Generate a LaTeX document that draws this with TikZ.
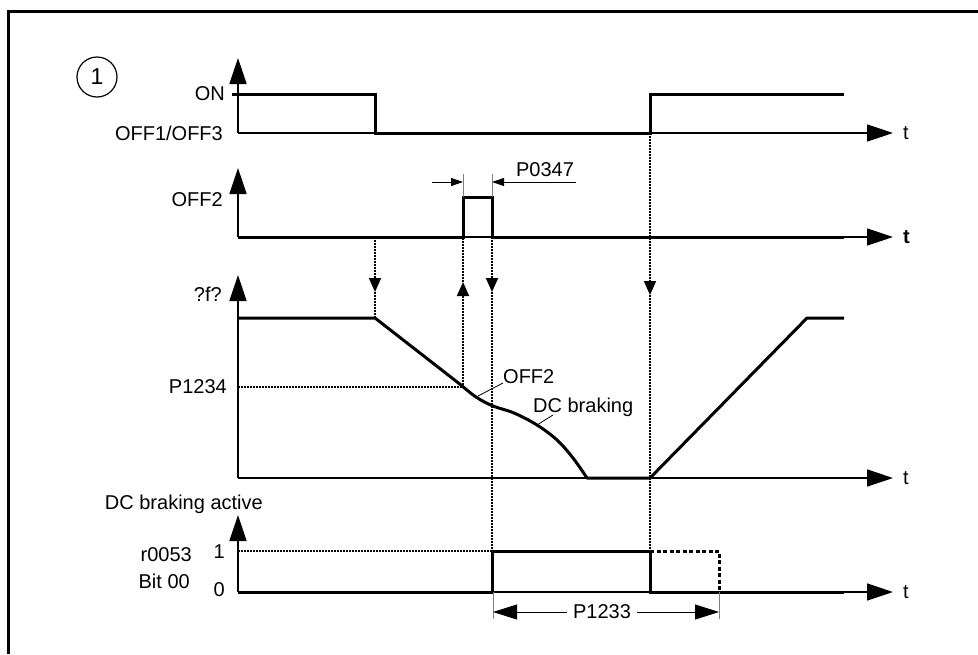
\documentclass[tikz,border=0pt]{standalone}
\usepackage{fontspec}
\setmainfont{Liberation Sans}
\usetikzlibrary{arrows.meta}
\begin{document}
\begin{tikzpicture}[x=1pt,y=-1pt,
  font=\fontsize{20}{24}\selectfont,
  axis/.style={line width=1.6pt,-{Triangle[length=26pt,width=17pt]}},
  sig/.style={line width=3pt,line join=miter},
  dots/.style={line width=1.7pt,dash pattern=on 1.8pt off 1.2pt},
  darrow/.style={-{Triangle[length=14pt,width=12pt]}},
  dimline/.style={line width=0.8pt},
  smallarr/.style={dimline,-{Triangle[length=12pt,width=8pt]}},
  bigarr/.style={dimline,-{Triangle[length=24pt,width=15pt]}},
  lbl/.style={inner sep=0pt}
]
\useasboundingbox (0,0) rectangle (978,654);
% frame
\draw[line width=3pt] (8,654) -- (8,11) -- (978,11);
% marker
\node[draw,circle,line width=1.2pt,minimum size=40pt,inner sep=0pt,font=\fontsize{23}{26}\selectfont] (mark) at (97,77) {1};

% ---------- panel 1
\coordinate (o1) at (238,133);
\draw[axis] (o1) -- (238,58);
\draw[axis] (o1) -- (893,133);
\draw[sig] (232,94) -- (375,94) -- (375,133) -- (650,133) -- (650,94) -- (844,94);
\node[lbl,anchor=east] (on) at (225,94) {ON};
\node[lbl,anchor=east] (off13) at (223,133) {OFF1/OFF3};
\node[lbl,anchor=west] (t1) at (903,133) {t};

% ---------- panel 2
\coordinate (o2) at (238,237);
\draw[axis] (o2) -- (238,168);
\draw[axis] (o2) -- (893,237);
\draw[sig] (238,237) -- (463,237) -- (463,197) -- (492,197) -- (492,237) -- (844,237);
\node[lbl,anchor=east] (off2) at (223,200) {OFF2};
\node[lbl,anchor=west] (t2) at (903,237) {\textbf{t}};
% P0347 dimension
\draw[dimline,gray] (463,197) -- (463,174);
\draw[dimline,gray] (492,197) -- (492,174);
\coordinate (pa) at (432,182);
\coordinate (pb) at (463,182);
\coordinate (pc) at (576,182);
\coordinate (pd) at (492,182);
\draw[smallarr] (pa) -- (pb);
\draw[smallarr] (pc) -- (pd);
\node[lbl,anchor=base] (p0347) at (545,176) {P0347};

% ---------- panel 3
\coordinate (o3) at (238,478);
\draw[axis] (o3) -- (238,275);
\draw[axis] (o3) -- (893,478);
\draw[dots] (238,387) -- (463,387);
\draw[sig,line join=round] (238,318) -- (375,318) -- (461,385)
   plot[smooth,tension=0.6] coordinates {(461,385) (476,397) (493,406) (514,413) (537,425) (557,440) (573,458) (587,478)}
   -- (650,478) -- (807,318) -- (844,318);
\node[lbl,anchor=east] (f) at (222,294) {?f?};
\node[lbl,anchor=east] (p1234) at (227,387) {P1234};
\node[lbl,anchor=west] (t3) at (903,478) {t};
\node[lbl,anchor=base west] (off2b) at (503,383) {OFF2};
\draw[dimline] (478,396) -- (off2b.base west);
\node[lbl,anchor=base west] (dcb) at (533,412) {DC braking};
\draw[dimline] (537,425) -- (553,415);

% ---------- panel 4
\coordinate (o4) at (238,592);
\draw[axis] (o4) -- (238,515);
\draw[axis] (o4) -- (893,592);
\draw[dimline,dash pattern=on 1.8pt off 1.2pt,line width=1.2pt] (238,551) -- (492,551);
\draw[sig] (238,592) -- (492,592) -- (492,551) -- (650,551) -- (650,592) -- (844,592);
\draw[line width=3pt,dash pattern=on 4pt off 2.5pt] (650,551) -- (719,551) -- (719,592);
\node[lbl,anchor=base east] (dca) at (263,509) {DC braking active};
\node[lbl,anchor=east] (one) at (225,552) {1};
\node[lbl,anchor=east] (zero) at (225,590) {0};
\node[lbl,anchor=east] (r53) at (192,555) {r0053};
\node[lbl,anchor=east] (bit) at (190,581) {Bit 00};
\node[lbl,anchor=west] (t4) at (903,592) {t};
% P1233 dimension
\draw[dimline,gray] (493,592) -- (493,619);
\draw[dimline,gray] (719,592) -- (719,619);
\node[lbl] (p1233) at (602,612) {P1233};
\coordinate (qa) at (493,612);
\coordinate (qb) at (719,612);
\draw[bigarr] (p1233.west) ++(-6,0) -- (qa);
\draw[bigarr] (p1233.east) ++(6,0) -- (qb);

% ---------- dotted event arrows
\coordinate (a1) at (375,237); \coordinate (a1m) at (375,292); \coordinate (a1e) at (375,318);
\draw[dots] (a1m) -- (a1e);
\draw[dots,darrow] (a1) -- (a1m);
\coordinate (a2) at (463,385); \coordinate (a2m) at (463,282); \coordinate (a2e) at (463,237);
\draw[dots] (a2m) -- (a2e);
\draw[dots,darrow] (a2) -- (a2m);
\coordinate (a3) at (492,237); \coordinate (a3m) at (492,292); \coordinate (a3e) at (492,592);
\draw[dots] (a3m) -- (a3e);
\draw[dots,darrow] (a3) -- (a3m);
\coordinate (a4) at (650,133); \coordinate (a4m) at (650,295); \coordinate (a4e) at (650,592);
\draw[dots] (a4m) -- (a4e);
\draw[dots,darrow] (a4) -- (a4m);
\end{tikzpicture}
\end{document}
